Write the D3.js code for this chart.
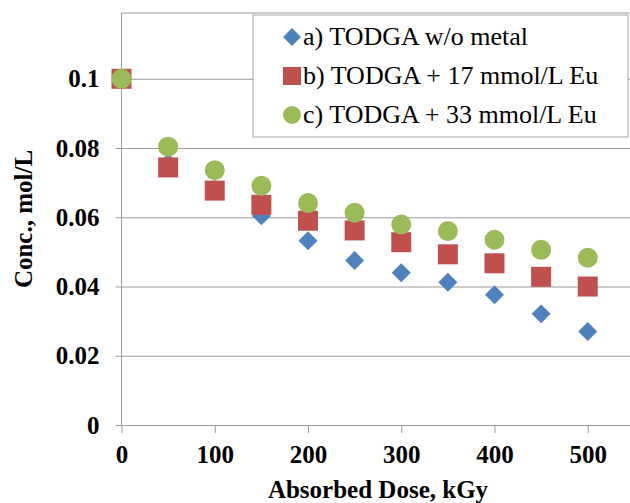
<!DOCTYPE html>
<html>
<head>
<meta charset="utf-8">
<script src="https://cdn.jsdelivr.net/npm/d3@7"></script>
<style>
  body { margin: 0; background: #fff; }
  svg { display: block; font-family: "Liberation Serif", "Times New Roman", serif; }
  .axis text { font-family: "Liberation Serif", "Times New Roman", serif; font-size: 25px; font-weight: bold; fill: #000; }
  .axis path, .axis line { stroke: #9a9a9a; }
  .grid line { stroke: #9a9a9a; }
  .grid path { display: none; }
</style>
</head>
<body>
<svg width="630" height="503"></svg>
<script>
// data
var doses = [0, 50, 100, 150, 200, 250, 300, 350, 400, 450, 500];
var noMetal = [0.100, 0.0757, 0.0680, 0.0604, 0.0532, 0.0475, 0.0440, 0.0412, 0.0376, 0.0321, 0.0270];
var eu17 = [0.100, 0.0744, 0.0677, 0.0636, 0.0590, 0.0562, 0.0528, 0.0493, 0.0467, 0.0428, 0.0400];
var eu33 = [0.100, 0.0804, 0.0736, 0.0691, 0.0641, 0.0613, 0.0579, 0.0560, 0.0535, 0.0506, 0.0483];
var seriesNames = ["a) TODGA w/o metal", "b) TODGA + 17 mmol/L Eu", "c) TODGA + 33 mmol/L Eu"];
var seriesColors = ["#4f81bd", "#c0504d", "#9bbb59"];
var xTicks = [0, 100, 200, 300, 400, 500];
var yTicks = [0, 0.02, 0.04, 0.06, 0.08, 0.1];

var svg = d3.select("svg"),
    plotLeft = 121.5, plotRight = 630, plotTop = 13, plotBottom = 425;

var xScale = d3.scaleLinear().domain([0, 600]).range([plotLeft, 681]);
var yScale = d3.scaleLinear().domain([0, 0.119]).range([plotBottom, plotTop]);

// gridlines
svg.append("g")
    .attr("class", "grid")
    .attr("transform", "translate(" + plotLeft + ",0)")
    .call(d3.axisLeft(yScale).tickValues(yTicks.slice(1)).tickSize(-(plotRight - plotLeft)).tickFormat(""));

// plot area top edge
svg.append("line")
    .attr("x1", plotLeft).attr("x2", plotRight)
    .attr("y1", plotTop).attr("y2", plotTop)
    .attr("stroke", "#9a9a9a");

// x axis
svg.append("g")
    .attr("class", "axis axis--x")
    .attr("transform", "translate(0," + plotBottom + ")")
    .call(d3.axisBottom(xScale).tickValues(xTicks).tickSize(8).tickSizeOuter(0).tickPadding(12));

// y axis
svg.append("g")
    .attr("class", "axis axis--y")
    .attr("transform", "translate(" + plotLeft + ",0)")
    .call(d3.axisLeft(yScale).tickValues(yTicks).tickSize(6).tickSizeOuter(0).tickPadding(16)
      .tickFormat(function(d) { return String(+d.toFixed(2)); }));

// y domain line reaches the top of the plot
svg.select(".axis--y .domain").attr("d", "M0," + plotTop + "V" + plotBottom);

// axis titles
svg.append("text")
    .attr("x", 378).attr("y", 498)
    .attr("text-anchor", "middle")
    .style("font-size", "25px").style("font-weight", "bold")
    .text("Absorbed Dose, kGy");

svg.append("text")
    .attr("transform", "translate(32,219) rotate(-90)")
    .attr("text-anchor", "middle")
    .style("font-size", "25px").style("font-weight", "bold")
    .text("Conc., mol/L");

// markers
var shapes = [
  d3.symbol().type(d3.symbolSquare).size(180),
  d3.symbol().type(d3.symbolSquare).size(400),
  d3.symbol().type(d3.symbolCircle).size(Math.PI * 100)
];
var rotations = [45, 0, 0];

[noMetal, eu17, eu33].forEach(function(vals, i) {
  svg.append("g").selectAll("path")
      .data(doses.map(function(d, j) { return {dose: d, conc: vals[j]}; }))
      .enter()
      .append("path")
      .attr("d", shapes[i])
      .attr("fill", seriesColors[i])
      .attr("transform", function(d) {
        return "translate(" + xScale(d.dose) + "," + yScale(d.conc) + ") rotate(" + rotations[i] + ")";
      });
});

// legend
var legend = svg.append("g").attr("transform", "translate(253,15)");
legend.append("rect")
    .attr("x", 0).attr("y", 0)
    .attr("width", 375).attr("height", 122)
    .attr("fill", "#fff")
    .attr("stroke", "#a6a6a6");

var legendShapes = [
  d3.symbol().type(d3.symbolSquare).size(160),
  d3.symbol().type(d3.symbolSquare).size(324),
  d3.symbol().type(d3.symbolCircle).size(Math.PI * 81)
];

var rows = legend.selectAll(".row")
    .data(seriesNames)
    .enter()
    .append("g")
    .attr("class", "row")
    .attr("transform", function(d, i) { return "translate(0," + (22 + i * 39) + ")"; });

rows.append("path")
    .attr("d", function(d, i) { return legendShapes[i](); })
    .attr("fill", function(d, i) { return seriesColors[i]; })
    .attr("transform", function(d, i) { return "translate(39,0) rotate(" + rotations[i] + ")"; });

rows.append("text")
    .attr("x", 50).attr("y", 8)
    .style("font-size", "26px")
    .text(function(d) { return d; });
</script>
</body>
</html>
